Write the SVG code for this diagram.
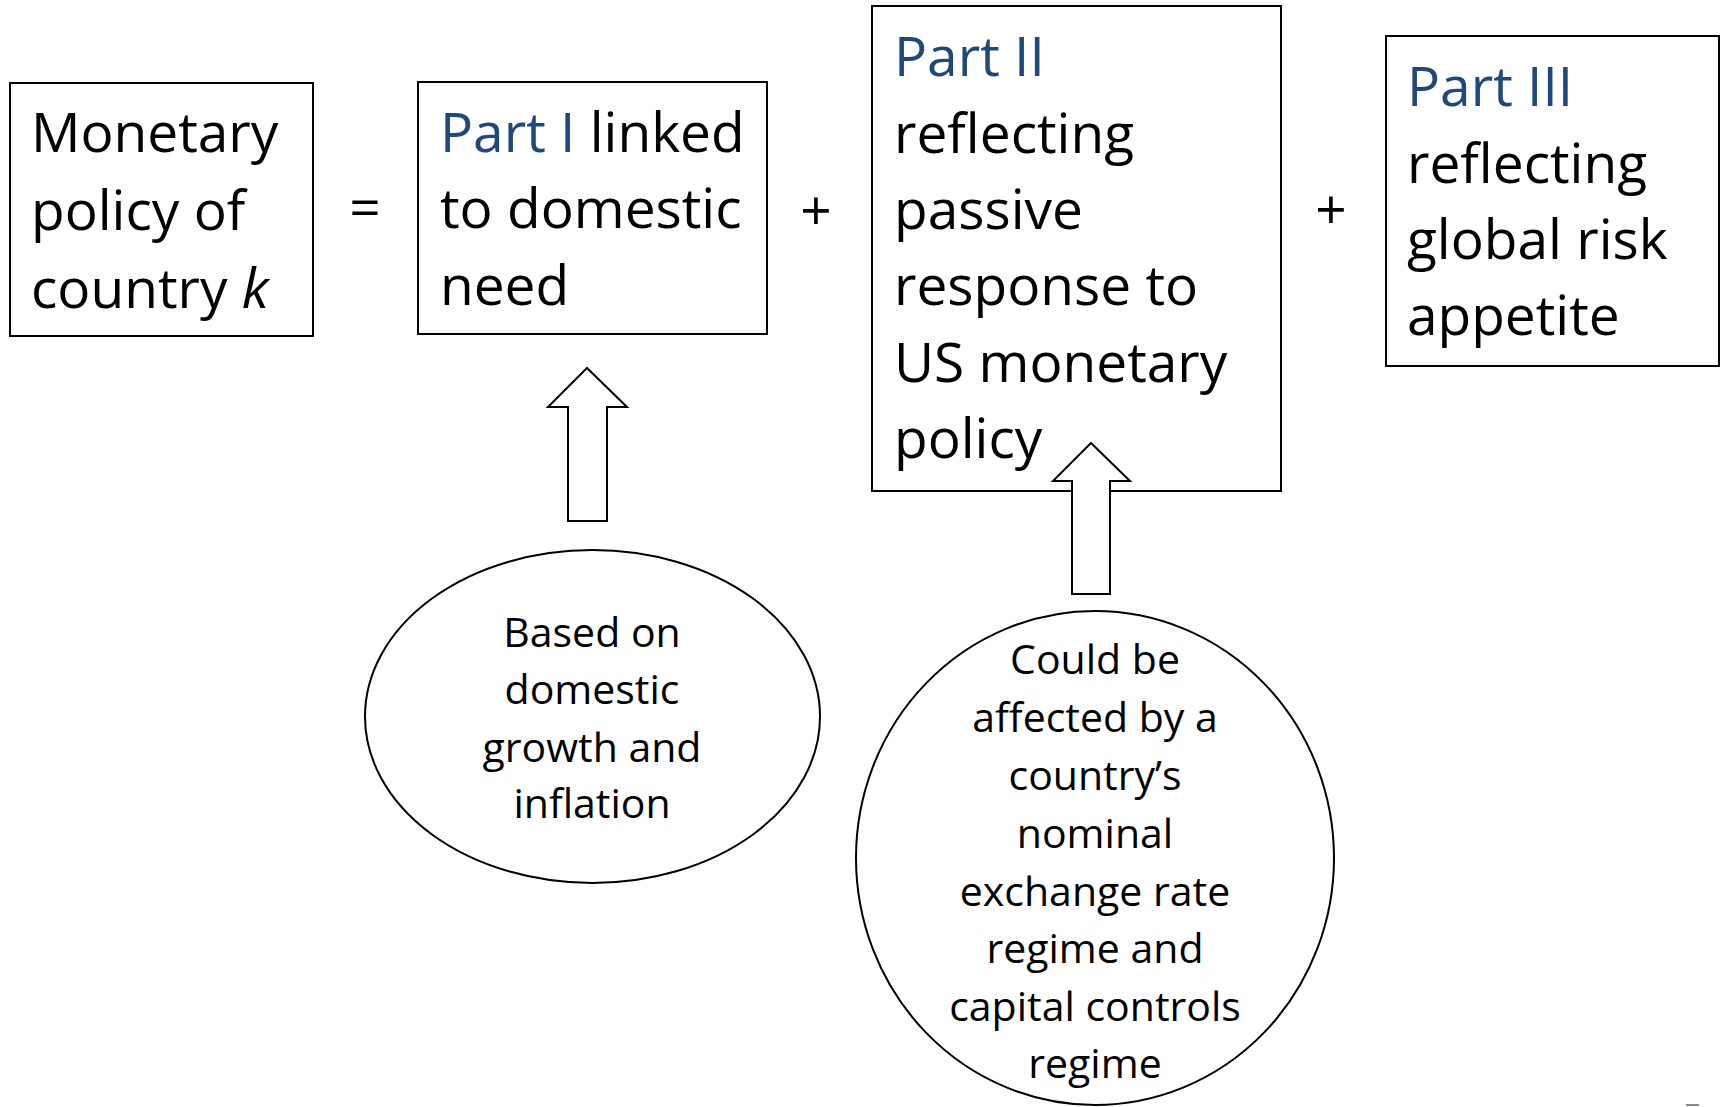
<svg xmlns="http://www.w3.org/2000/svg" width="1721" height="1107" viewBox="0 0 1721 1107">
<style>
.box{fill:#fff;stroke:#000;stroke-width:2}
.oval{fill:#fff;stroke:#000;stroke-width:2}
.big{font-family:"Open Sans","Liberation Sans",sans-serif;font-size:55px;fill:#000}
.small{font-family:"Open Sans","Liberation Sans",sans-serif;font-size:41px;fill:#000;text-anchor:middle}
.blue{fill:#1F497D}
.op{font-family:"Open Sans","Liberation Sans",sans-serif;font-size:55px;fill:#000;text-anchor:middle}
.arrow{fill:#fff;stroke:#000;stroke-width:2;stroke-linejoin:miter}
</style>
<rect width="1721" height="1107" fill="#fff"/>
<g id="node-monetary">
<rect class="box" x="10" y="83" width="303" height="253"/>
<text class="big" x="31" y="152">Monetary</text>
<text class="big" x="31" y="230">policy of</text>
<text class="big" x="31" y="308">country <tspan font-style="italic">k</tspan></text>
</g>
<g id="op-equals"><text class="op" x="365" y="227">=</text></g>
<g id="node-part1">
<rect class="box" x="418" y="82" width="349" height="252"/>
<text class="big" x="440" y="152"><tspan class="blue">Part I</tspan> linked</text>
<text class="big" x="440" y="228">to domestic</text>
<text class="big" x="440" y="305">need</text>
</g>
<g id="op-plus1"><text class="op" x="816" y="230">+</text></g>
<g id="node-part2">
<rect class="box" x="872" y="6" width="409" height="485"/>
<text class="big" x="894" y="76"><tspan class="blue">Part II</tspan></text>
<text class="big" x="894" y="153">reflecting</text>
<text class="big" x="894" y="229">passive</text>
<text class="big" x="894" y="305">response to</text>
<text class="big" x="894" y="382">US monetary</text>
<text class="big" x="894" y="458">policy</text>
</g>
<g id="op-plus2"><text class="op" x="1331" y="229">+</text></g>
<g id="node-part3">
<rect class="box" x="1386" y="36" width="333" height="330"/>
<text class="big" x="1407" y="106"><tspan class="blue">Part III</tspan></text>
<text class="big" x="1407" y="183">reflecting</text>
<text class="big" x="1407" y="259">global risk</text>
<text class="big" x="1407" y="335">appetite</text>
</g>
<g id="node-domestic">
<ellipse class="oval" cx="592.5" cy="716.5" rx="227.5" ry="166.5"/>
<text class="small" x="592" y="647">Based on</text>
<text class="small" x="592" y="704">domestic</text>
<text class="small" x="592" y="762">growth and</text>
<text class="small" x="592" y="818">inflation</text>
</g>
<g id="node-regime">
<ellipse class="oval" cx="1095" cy="858" rx="239" ry="247"/>
<text class="small" x="1095" y="674">Could be</text>
<text class="small" x="1095" y="732">affected by a</text>
<text class="small" x="1095" y="790">country’s</text>
<text class="small" x="1095" y="848">nominal</text>
<text class="small" x="1095" y="906">exchange rate</text>
<text class="small" x="1095" y="963">regime and</text>
<text class="small" x="1095" y="1021">capital controls</text>
<text class="small" x="1095" y="1078">regime</text>
</g>
<g id="connectors">
<polygon class="arrow" points="587,368 627,407 607,407 607,521 568,521 568,407 548,407"/>
<polygon class="arrow" points="1091,443 1130,481 1110,481 1110,594 1072,594 1072,481 1053,481"/>
</g>
<rect x="1686" y="1104" width="13" height="2" fill="#888"/>
</svg>
